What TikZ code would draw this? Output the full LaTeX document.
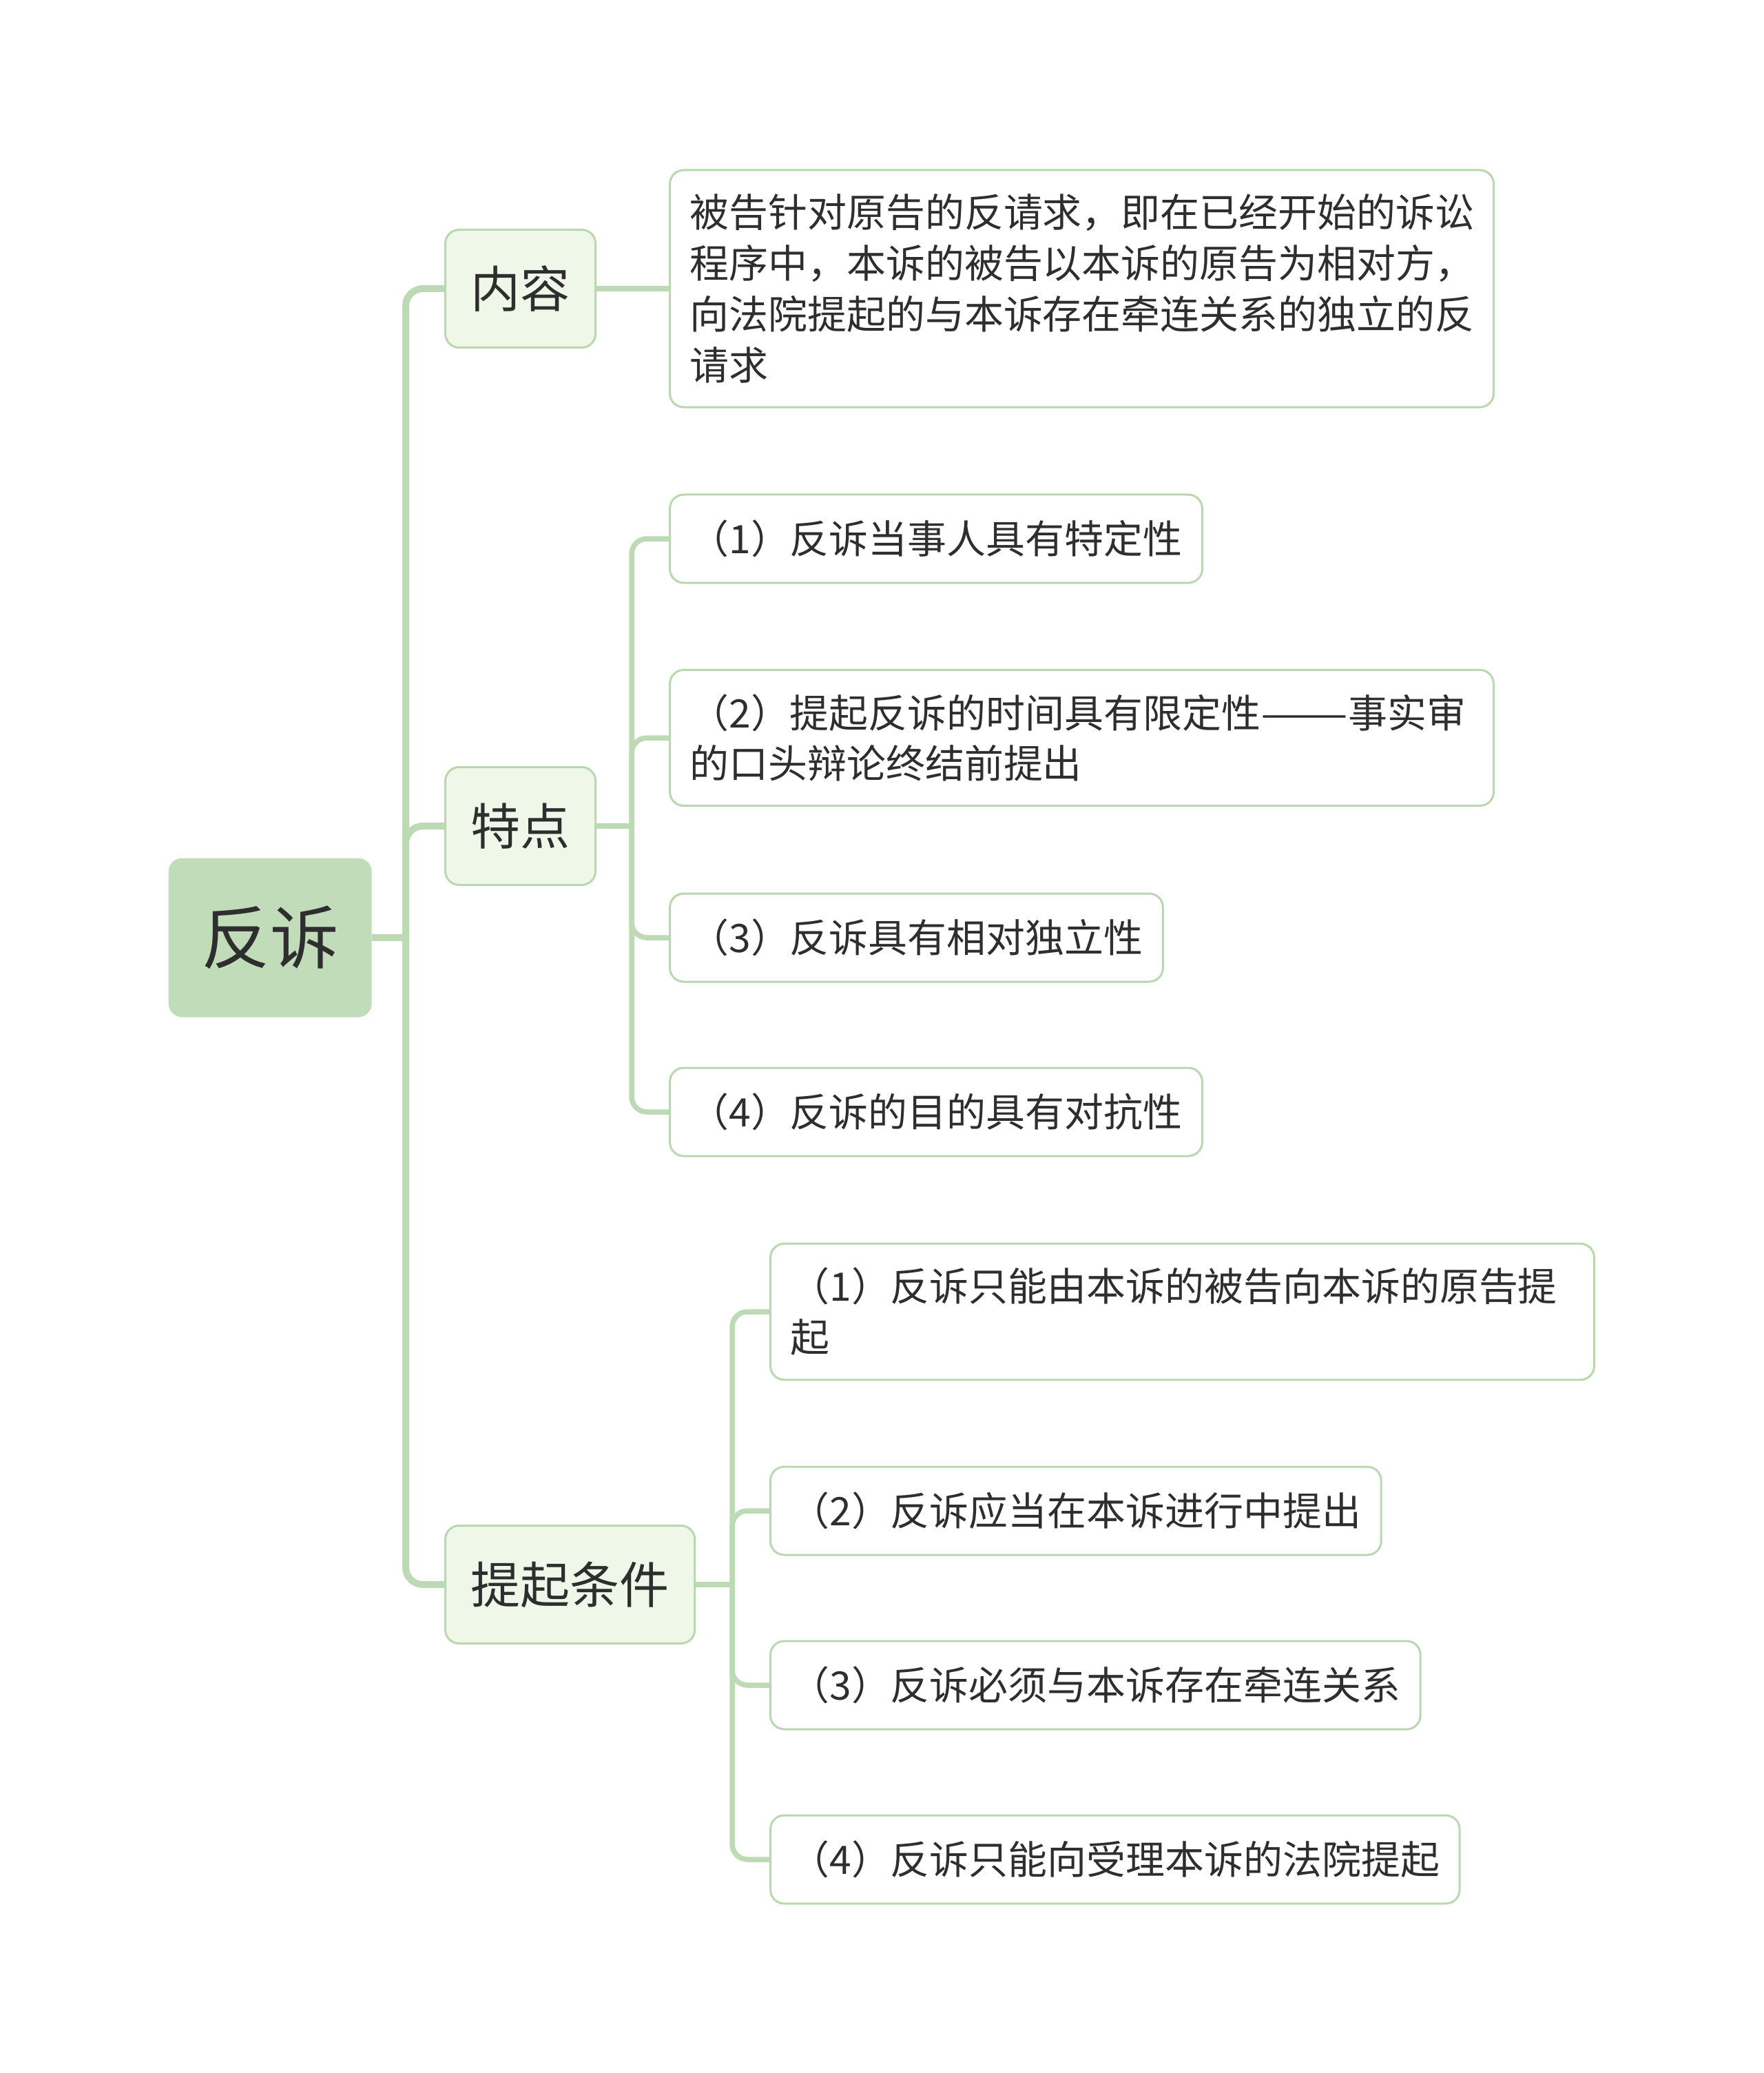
\documentclass[tikz,border=0pt]{standalone}
\usepackage{fontspec}
\usepackage{graphicx}
\setmainfont{Noto Sans CJK SC}
\usetikzlibrary{positioning,calc}
\definecolor{linegreen}{HTML}{BCDAB3}
\definecolor{rootgreen}{HTML}{C1DCB9}
\definecolor{palegreen}{HTML}{EFF7E8}
\definecolor{boxline}{HTML}{B9D8AF}
\definecolor{textgray}{HTML}{2E2E2E}

\begin{document}
\begin{tikzpicture}[
    root/.style={rectangle, fill=rootgreen, rounded corners=0.2cm, minimum width=2.95cm, minimum height=2.31cm, text=textgray, font=\fontsize{28.4}{34}\selectfont},
    topic/.style={rectangle, draw=boxline, line width=0.03cm, fill=palegreen, rounded corners=0.2cm, inner xsep=0.37cm, minimum height=1.71cm, text=textgray, font=\fontsize{20.5}{26}\selectfont},
    leaf/.style={rectangle, draw=boxline, line width=0.03cm, fill=white, rounded corners=0.2cm, inner xsep=0.29cm, inner ysep=0.35cm, minimum height=1.28cm, text=textgray, align=left, font=\fontsize{16.2}{21}\selectfont},
    wide/.style={leaf, text width=11.38cm},
    trunk/.style={draw=linegreen, line width=0.1cm, rounded corners=0.25cm},
    twig/.style={draw=linegreen, line width=0.075cm, rounded corners=0.22cm}
]
\useasboundingbox (0,0) rectangle (25.6,-30.09);

% Nodes
\node[root, anchor=west] (fansu) at (2.44,-13.61) {反诉};
\node[topic, anchor=west] (neirong) at (6.45,-4.19) {内容};
\node[topic, anchor=west] (tedian) at (6.45,-11.99) {特点};
\node[topic, anchor=west] (tiqi) at (6.45,-23.00) {提起条件};

\node[wide, anchor=west] (dingyi) at (9.71,-4.19) {被告针对原告的反请求，即在已经开始的诉讼\\程序中，本诉的被告以本诉的原告为相对方，\\向法院提起的与本诉存在牵连关系的独立的反\\请求};

\node[leaf, anchor=west] (td1) at (9.71,-7.82) {（1）反诉当事人具有特定性};
\node[wide, anchor=west] (td2) at (9.71,-10.71) {（2）提起反诉的时间具有限定性\scalebox{1.33}[1]{——}事实审\\的口头辩论终结前提出};
\node[leaf, anchor=west] (td3) at (9.71,-13.61) {（3）反诉具有相对独立性};
\node[leaf, anchor=west] (td4) at (9.71,-16.14) {（4）反诉的目的具有对抗性};

\node[wide, anchor=west] (tq1) at (11.17,-19.04) {（1）反诉只能由本诉的被告向本诉的原告提\\起};
\node[leaf, anchor=west] (tq2) at (11.17,-21.93) {（2）反诉应当在本诉进行中提出};
\node[leaf, anchor=west] (tq3) at (11.17,-24.46) {（3）反诉必须与本诉存在牵连关系};
\node[leaf, anchor=west] (tq4) at (11.17,-26.99) {（4）反诉只能向受理本诉的法院提起};

\coordinate (j0) at (5.89,-13.61);
\coordinate (j1) at (9.17,-11.99);
\coordinate (j2) at (10.63,-23.00);

% Edges
\draw[trunk] (fansu.east) -- (j0);
\draw[trunk] (j0) |- (neirong.west);
\draw[trunk] (j0) |- (tedian.west);
\draw[trunk] (j0) |- (tiqi.west);

\draw[twig] (neirong.east) -- (dingyi.west);

\draw[twig] (tedian.east) -- (j1);
\draw[twig] (j1) |- (td1.west);
\draw[twig] (j1) |- (td2.west);
\draw[twig] (j1) |- (td3.west);
\draw[twig] (j1) |- (td4.west);

\draw[twig] (tiqi.east) -- (j2);
\draw[twig] (j2) |- (tq1.west);
\draw[twig] (j2) |- (tq2.west);
\draw[twig] (j2) |- (tq3.west);
\draw[twig] (j2) |- (tq4.west);
\end{tikzpicture}
\end{document}
